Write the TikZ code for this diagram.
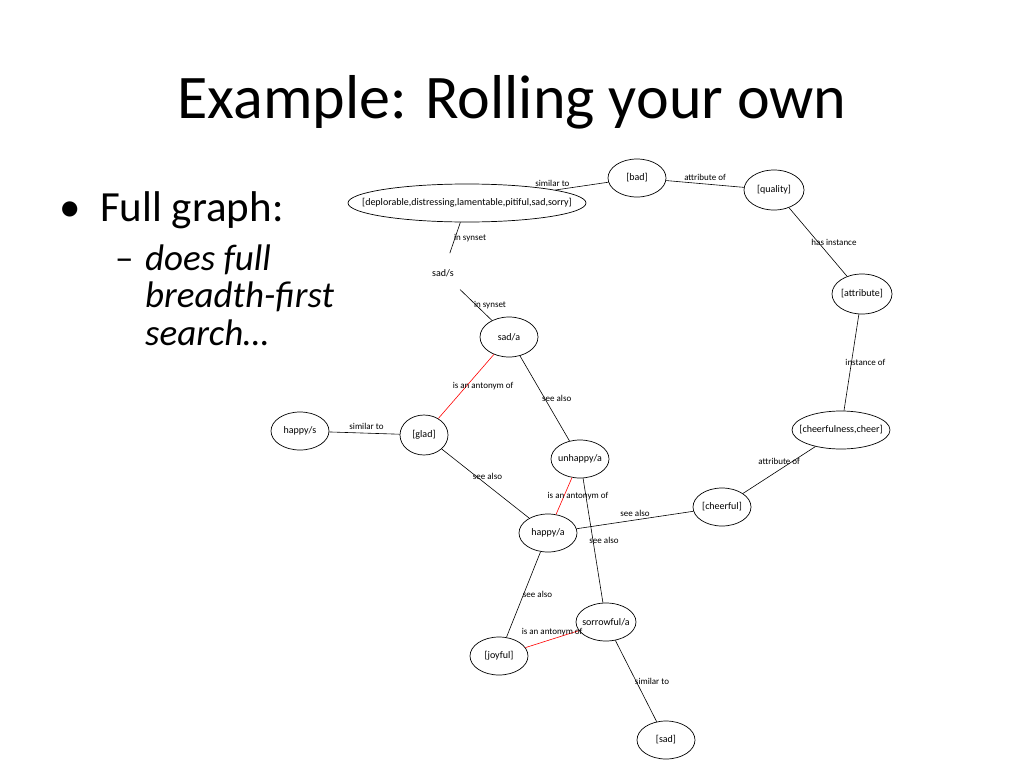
\documentclass[tikz,border=0pt]{standalone}
\usepackage{fontspec}
\setmainfont{Carlito}
\usetikzlibrary{positioning, shapes.geometric}

\tikzset{
  syn/.style={ellipse, draw=black, line width=0.7pt, inner sep=0pt,
    minimum width=58pt, minimum height=38pt,
    font=\fontsize{10}{12}\selectfont,
    execute at begin node={\hbox to 0pt\bgroup\hss},
    execute at end node={\hss\egroup}},
  word/.style={syn, draw=none},
  lbl/.style={font=\fontsize{9}{10}\selectfont, inner sep=0pt},
  rel/.style={line width=0.6pt},
  anto/.style={rel, draw=red},
}

\begin{document}
\begin{tikzpicture}[x=1pt,y=-1pt]
\useasboundingbox (0,0) rectangle (1024,768);
% slide text
\node[anchor=base, inner sep=0pt, font=\fontsize{62}{70}\selectfont] (title) at (512,118) {Example: Rolling your own};
\node[anchor=base west, inner sep=0pt, font=\fontsize{43}{50}\selectfont] (dot) at (59,221) {•};
\node[anchor=base west, inner sep=0pt, font=\fontsize{43}{50}\selectfont] (full) at (100,221) {Full graph:};
\node[anchor=base west, inner sep=0pt, font=\fontsize{37}{44}\selectfont] (dash) at (115,270) {–};
\node[anchor=base west, inner sep=0pt, font=\fontsize{37}{44}\selectfont\itshape] (l1) at (145,270) {does full};
\node[anchor=base west, inner sep=0pt, font=\fontsize{37}{44}\selectfont\itshape] (l2) at (145,307) {breadth-first};
\node[anchor=base west, inner sep=0pt, font=\fontsize{37}{44}\selectfont\itshape] (l3) at (145,345) {search…};

% graph nodes
\node[syn, minimum width=238pt] (dep) at (467,203) {[deplorable,distressing,lamentable,pitiful,sad,sorry]};
\node[syn] (bad) at (637,178) {[bad]};
\node[syn, minimum height=40pt, minimum width=60pt] (quality) at (774,190) {[quality]};
\node[syn, minimum height=40pt, minimum width=60pt] (attribute) at (862,294) {[attribute]};
\node[syn, minimum width=98pt] (cheer) at (841,430) {[cheerfulness,cheer]};
\node[word, minimum height=40pt] (sads) at (443,273) {sad/s};
\node[syn, minimum height=40pt] (sada) at (509,337) {sad/a};
\node[syn] (happys) at (300,431) {happy/s};
\node[syn, minimum width=48pt, minimum height=40pt] (glad) at (424,435) {[glad]};
\node[syn] (unhappy) at (580,459) {unhappy/a};
\node[syn] (cheerful) at (722,507) {[cheerful]};
\node[syn] (happya) at (548,533) {happy/a};
\node[syn, minimum width=60pt] (sorrow) at (606,622) {sorrowful/a};
\node[syn] (joyful) at (499,656) {[joyful]};
\node[syn] (sad) at (666,740) {[sad]};

% relations
\draw[rel] (dep) -- node[lbl, pos=0, above=3pt, xshift=-3pt] {similar to} (bad);
\draw[rel] (bad) -- node[lbl, pos=.5, above=3pt] {attribute of} (quality);
\draw[rel] (quality) -- node[lbl, pos=.5, xshift=16pt] {has instance} (attribute);
\draw[rel] (attribute) -- node[lbl, pos=.5, xshift=14pt] {instance of} (cheer);
\draw[rel] (dep) -- node[lbl, pos=.5, xshift=15pt] {in synset} (sads);
\draw[rel] (sads) -- node[lbl, pos=.5, xshift=14pt] {in synset} (sada);
\draw[anto] (sada) -- node[lbl, pos=.5, xshift=17pt] {is an antonym of} (glad);
\draw[rel] (sada) -- node[lbl, pos=.5, xshift=12pt] {see also} (unhappy);
\draw[rel] (happys) -- node[lbl, pos=.5, above=3pt, xshift=2pt] {similar to} (glad);
\draw[rel] (glad) -- node[lbl, pos=.5, yshift=7pt, xshift=2pt] {see also} (happya);
\draw[anto] (unhappy) -- node[lbl, pos=.5, xshift=14pt] {is an antonym of} (happya);
\draw[rel] (unhappy) -- node[lbl, pos=.5, xshift=11pt] {see also} (sorrow);
\draw[rel] (happya) -- node[lbl, pos=.5, above=3pt] {see also} (cheerful);
\draw[rel] (cheerful) -- node[lbl, pos=.5, above=5pt] {attribute of} (cheer);
\draw[rel] (happya) -- node[lbl, pos=.5, xshift=14pt] {see also} (joyful);
\draw[anto] (joyful) -- node[lbl, pos=.5, above=3pt] {is an antonym of} (sorrow);
\draw[rel] (sorrow) -- node[lbl, pos=.5, xshift=16pt] {similar to} (sad);
\end{tikzpicture}
\end{document}
